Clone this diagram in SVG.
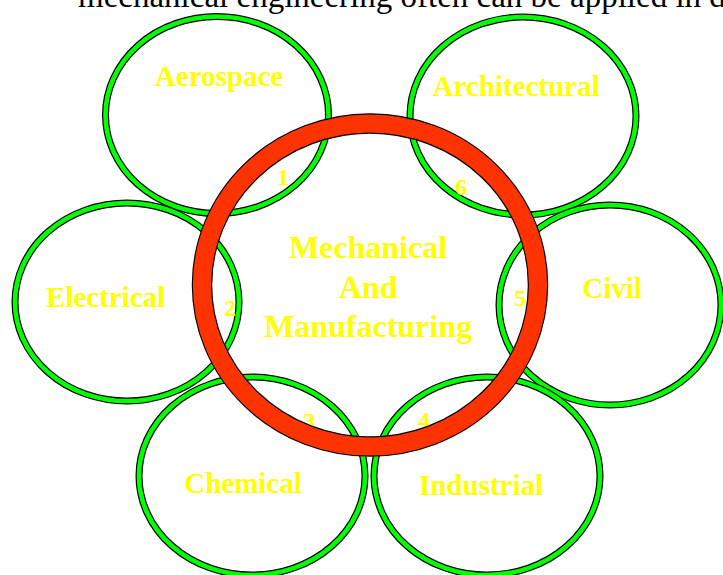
<svg xmlns="http://www.w3.org/2000/svg" width="723" height="575" viewBox="0 0 723 575">
<defs>
<style>
.gOut{fill:none;stroke:#000;stroke-width:7}
.gIn{fill:none;stroke:#00FF00;stroke-width:4.6}
.rOut{fill:none;stroke:#000;stroke-width:20.5}
.rIn{fill:none;stroke:#FF3300;stroke-width:18.2}
.lbl{font-family:"Liberation Serif","Times New Roman",serif;font-weight:bold;fill:#FFFF00;text-anchor:middle}
.big{font-size:29px}
.num{font-size:24px}
.main{font-size:32px}
.top{font-family:"Liberation Serif","Times New Roman",serif;font-size:33px;fill:#000}
</style>
</defs>
<rect width="723" height="575" fill="#fff"/>
<text class="top" x="78" y="7">mechanical engineering often can be applied in d</text>
<g id="aerospace">
<ellipse class="gOut" cx="217" cy="115" rx="111.5" ry="98.5"/>
<ellipse class="gIn" cx="217" cy="115" rx="111.5" ry="98.5"/>
<text class="lbl big" x="219" y="86">Aerospace</text>
<text class="lbl num" x="283" y="185">1</text>
</g>
<g id="architectural">
<ellipse class="gOut" cx="523" cy="116" rx="113" ry="99"/>
<ellipse class="gIn" cx="523" cy="116" rx="113" ry="99"/>
<text class="lbl big" x="516" y="96">Architectural</text>
<text class="lbl num" x="461" y="195">6</text>
</g>
<g id="electrical">
<ellipse class="gOut" cx="127" cy="302" rx="112" ry="99"/>
<ellipse class="gIn" cx="127" cy="302" rx="112" ry="99"/>
<text class="lbl big" x="105.5" y="307">Electrical</text>
<text class="lbl num" x="230" y="316">2</text>
</g>
<g id="civil">
<ellipse class="gOut" cx="610" cy="305" rx="111" ry="100"/>
<ellipse class="gIn" cx="610" cy="305" rx="111" ry="100"/>
<text class="lbl big" x="612" y="298">Civil</text>
<text class="lbl num" x="520" y="306">5</text>
</g>
<g id="chemical">
<ellipse class="gOut" cx="252" cy="476" rx="113" ry="99"/>
<ellipse class="gIn" cx="252" cy="476" rx="113" ry="99"/>
<text class="lbl big" x="243" y="493">Chemical</text>
<text class="lbl num" x="309" y="429">3</text>
</g>
<g id="industrial">
<ellipse class="gOut" cx="487" cy="476" rx="113" ry="99"/>
<ellipse class="gIn" cx="487" cy="476" rx="113" ry="99"/>
<text class="lbl big" x="481" y="495">Industrial</text>
<text class="lbl num" x="424" y="428">4</text>
</g>
<g id="mechanical">
<ellipse class="rOut" cx="370" cy="285" rx="168" ry="161.5"/>
<ellipse class="rIn" cx="370" cy="285" rx="168" ry="161.5"/>
<text class="lbl main" x="368" y="258">Mechanical</text>
<text class="lbl main" x="368" y="298">And</text>
<text class="lbl main" x="368" y="337">Manufacturing</text>
</g>
<g id="connectors"/>
</svg>
